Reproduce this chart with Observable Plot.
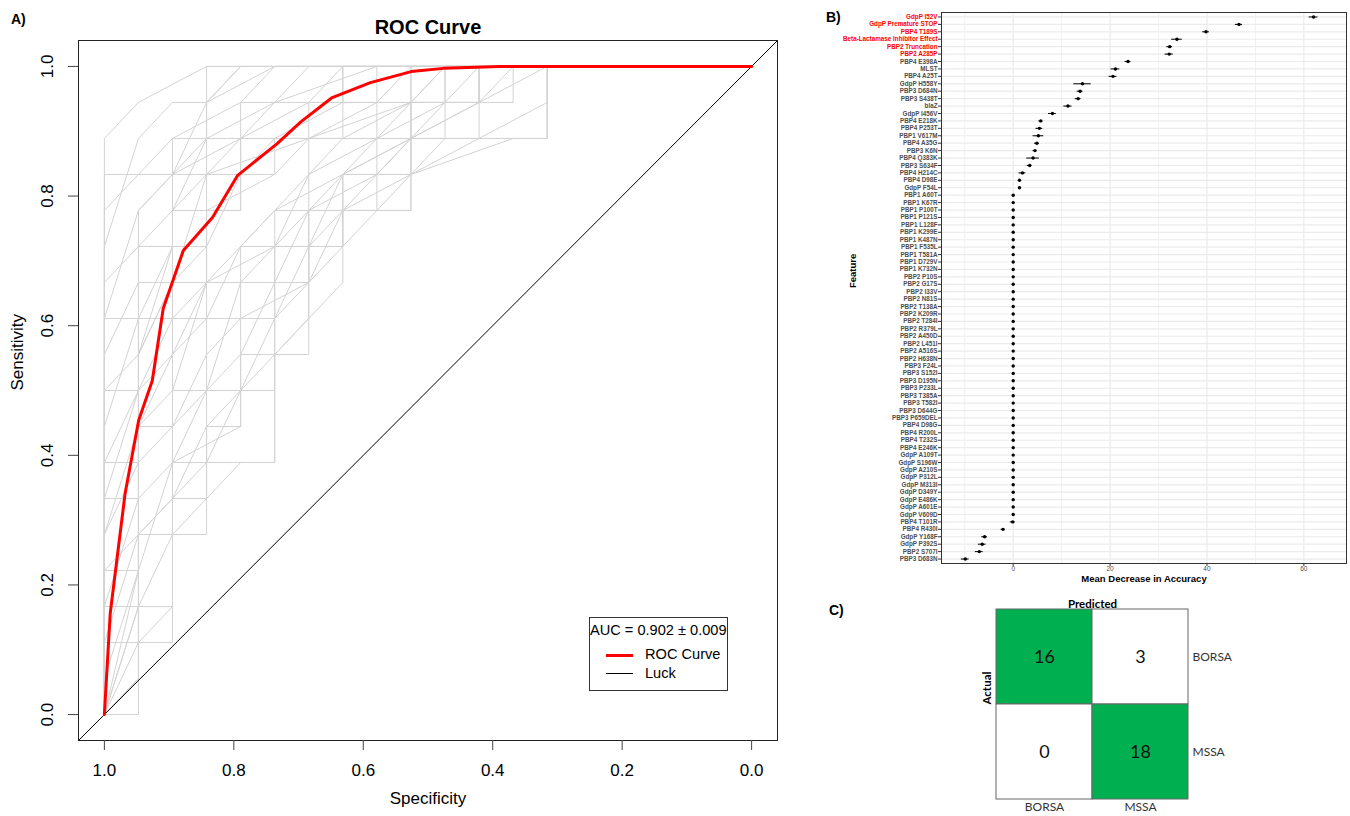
<!DOCTYPE html>
<html><head><meta charset="utf-8">
<script src="https://cdn.jsdelivr.net/npm/d3@7"></script>
<script src="https://cdn.jsdelivr.net/npm/@observablehq/plot@0.6"></script>
<style>
body{margin:0;background:#fff;font-family:"Liberation Sans",Arial,sans-serif;}
#root{position:relative;width:1350px;height:816px;overflow:hidden;background:#fff;}
.abs{position:absolute;}
.plab{position:absolute;font-weight:bold;font-size:14px;line-height:14px;font-family:"Liberation Sans",Arial,sans-serif;}
#legend{position:absolute;left:589px;top:617px;width:139px;height:74px;border:1px solid #333;box-sizing:border-box;font-size:14.6px;font-family:"Liberation Sans",Arial,sans-serif;background:#fff;}
#legend div{position:absolute;white-space:nowrap;}
</style></head><body><div id="root"></div>
<script>
// ---------- Panel A: ROC ----------
const rocSpec = [1.0, 0.991, 0.968, 0.947, 0.926, 0.909, 0.895, 0.878, 0.833, 0.794, 0.733, 0.697, 0.648, 0.589, 0.526, 0.476, 0.388, 0.0];
const rocSens = [0.0, 0.156, 0.341, 0.454, 0.515, 0.627, 0.667, 0.716, 0.767, 0.832, 0.881, 0.914, 0.952, 0.975, 0.992, 0.997, 1.0, 1.0];
const luckSpec = [1.04, -0.04];
const luckSens = [-0.04, 1.04];
const specSteps = 19; // negatives (BORSA)
const sensSteps = 18; // positives (MSSA)
// grey per-fold ROC curves, as [false-positive step, true-positive step]
const greyCurves = [
  [[0,0],[0,16],[1,17],[3,18],[19,18]],
  [[0,0],[1,2],[2,3],[2,5],[3,6],[4,7],[5,7],[5,10],[6,11],[6,13],[7,14],[9,14],[9,15],[11,16],[13,16],[13,18],[19,18]],
  [[0,0],[0,14],[1,15],[2,16],[4,17],[5,18],[19,18]],
  [[0,0],[0,3],[1,6],[1,10],[2,12],[3,15],[4,16],[6,17],[7,18],[19,18]],
  [[0,0],[1,4],[1,8],[2,9],[3,12],[3,14],[5,15],[6,16],[8,17],[9,18],[19,18]],
  [[0,0],[0,6],[1,9],[2,11],[4,13],[5,14],[7,15],[9,16],[10,17],[11,18],[19,18]],
  [[0,0],[0,10],[1,12],[1,14],[3,16],[5,17],[6,18],[19,18]],
  [[0,0],[1,3],[2,5],[2,8],[3,10],[4,11],[6,12],[7,14],[8,15],[9,16],[11,17],[13,18],[19,18]],
  [[0,0],[0,8],[1,11],[2,13],[2,15],[4,16],[5,17],[8,18],[19,18]],
  [[0,0],[0,2],[1,5],[1,7],[3,9],[4,10],[5,12],[6,14],[8,16],[10,17],[10,18],[19,18]],
  [[0,0],[0,12],[1,13],[2,14],[3,15],[6,16],[9,17],[11,17],[11,18],[19,18]],
  [[0,0],[1,1],[1,6],[2,7],[4,8],[4,9],[5,10],[6,11],[7,12],[7,14],[9,15],[12,16],[13,16],[13,18],[19,18]],
  [[0,0],[0,5],[1,8],[2,10],[3,11],[4,13],[6,15],[7,16],[9,17],[10,18],[19,18]],
  [[0,0],[0,4],[2,6],[3,7],[4,9],[5,11],[6,13],[7,15],[9,16],[11,17],[12,18],[19,18]],
  [[0,0],[0,9],[1,10],[2,12],[3,13],[4,15],[5,16],[7,17],[7,18],[19,18]],
  [[0,0],[0,7],[1,9],[2,10],[3,12],[5,13],[6,14],[8,15],[9,16],[9,18],[19,18]],
  [[0,0],[0,11],[1,14],[2,15],[3,17],[4,18],[19,18]],
  [[0,0],[1,3],[1,5],[2,6],[3,8],[4,9],[5,9],[5,11],[6,12],[7,13],[8,14],[9,15],[10,16],[11,16],[13,17],[13,18],[19,18]],
  [[0,0],[0,13],[1,16],[2,17],[3,17],[4,18],[19,18]],
  [[0,0],[0,1],[1,4],[2,7],[3,9],[4,12],[5,13],[6,15],[8,16],[9,17],[10,18],[19,18]],
  [[0,0],[0,15],[2,15],[2,16],[6,16],[6,17],[9,17],[9,18],[19,18]],
  [[0,0],[0,9],[1,9],[1,13],[3,13],[3,15],[5,15],[5,16],[9,16],[9,17],[11,17],[11,18],[19,18]],
  [[0,0],[0,4],[1,4],[1,8],[2,8],[2,11],[4,11],[4,13],[6,13],[6,14],[9,14],[9,16],[13,16],[13,18],[19,18]],
  [[0,0],[1,0],[1,2],[2,2],[2,5],[3,5],[3,8],[4,8],[4,10],[5,10],[5,12],[6,12],[6,14],[7,14],[7,15],[9,15],[9,16],[10,16],[10,17],[11,17],[11,18],[19,18]],
  [[0,0],[0,6],[1,6],[1,12],[3,12],[3,14],[4,14],[4,17],[7,17],[7,18],[19,18]],
  [[0,0],[0,11],[2,11],[2,15],[3,15],[3,18],[19,18]],
  [[0,0],[0,3],[2,3],[2,7],[5,7],[5,10],[6,10],[6,13],[7,13],[7,14],[8,14],[8,16],[11,16],[11,17],[12,17],[12,18],[19,18]],
  [[0,0],[0,2],[1,2],[1,5],[2,5],[2,9],[3,9],[3,12],[5,12],[5,14],[6,14],[6,16],[8,16],[8,17],[10,17],[10,18],[19,18]],
  [[0,0],[1,1],[1,3],[2,3],[2,6],[3,6],[3,9],[4,9],[4,11],[5,11],[5,13],[7,13],[7,15],[9,15],[9,17],[11,17],[11,18],[19,18]],
  [[0,0],[0,7],[1,7],[1,11],[2,11],[2,14],[4,14],[4,16],[7,16],[7,17],[8,17],[8,18],[19,18]],
  [[0,0],[0,5],[1,7],[1,10],[2,13],[2,14],[3,16],[3,17],[5,18],[19,18]]
];
const rocTicks = [0, 0.2, 0.4, 0.6, 0.8, 1.0];
const aucText = "AUC = 0.902 \u00b1 0.009";

// ---------- Panel B: feature importance ----------
const features = ["GdpP I52V","GdpP Premature STOP","PBP4 T189S","Beta-Lactamase Inhibitor Effect","PBP2 Truncation","PBP2 A285P","PBP4 E398A","MLST","PBP4 A25T","GdpP H558Y","PBP3 D684N","PBP3 S438T","blaZ","GdpP I456V","PBP4 E218K","PBP4 P253T","PBP1 V617M","PBP4 A35G","PBP3 K6N","PBP4 Q383K","PBP3 S634F","PBP4 H214C","PBP4 D98E","GdpP F54L","PBP1 A60T","PBP1 K67R","PBP1 P100T","PBP1 P121S","PBP1 L128F","PBP1 K299E","PBP1 K487N","PBP1 F535L","PBP1 T581A","PBP1 D729V","PBP1 K732N","PBP2 P10S","PBP2 G17S","PBP2 I33V","PBP2 N81S","PBP2 T138A","PBP2 K209R","PBP2 T284I","PBP2 R379L","PBP2 A450D","PBP2 L451I","PBP2 A516S","PBP2 H638N","PBP3 F24L","PBP3 S152I","PBP3 D195N","PBP3 P233L","PBP3 T385A","PBP3 T582I","PBP3 D644G","PBP3 P659DEL","PBP4 D98G","PBP4 R200L","PBP4 T232S","PBP4 E246K","GdpP A109T","GdpP S196W","GdpP A210S","GdpP P312L","GdpP M313I","GdpP D349Y","GdpP E486K","GdpP A601E","GdpP V609D","PBP4 T101R","PBP4 R430I","GdpP Y168F","GdpP P392S","PBP2 S707I","PBP3 D683N"];
const meanDecrease = [62.0,46.6,39.8,33.8,32.3,32.2,23.7,21.1,20.6,14.3,13.8,13.4,11.3,8.1,5.7,5.4,5.2,4.9,4.5,4.1,3.4,1.9,1.3,1.3,0,0,0,0,0,0,0,0,0,0,0,0,0,0,0,0,0,0,0,0,0,0,0,0,0,0,0,0,0,0,0,0,0,0,0,0,0,0,0,0,0,0,0,0,-0.1,-2.1,-5.9,-6.4,-7.0,-9.9];
const errHalf = [0.9,0.75,0.7,1.1,0.6,0.85,0.6,0.9,0.8,1.8,0.6,0.6,0.85,0.8,0.4,0.7,1.1,0.5,0.4,1.3,0.5,0.7,0.2,0.2,0,0,0,0,0,0,0,0,0,0,0,0,0,0,0,0,0,0,0,0,0,0,0,0,0,0,0,0,0,0,0,0,0,0,0,0,0,0,0,0,0,0,0,0,0.5,0.4,0.6,0.8,0.8,0.8];
const highlighted = ["GdpP I52V","GdpP Premature STOP","PBP4 T189S","Beta-Lactamase Inhibitor Effect","PBP2 Truncation","PBP2 A285P"];
const importanceTicks = [0, 20, 40, 60];
const importanceMinor = [-10, 10, 30, 50];

// ---------- Panel C: confusion matrix ----------
const classes = ["BORSA", "MSSA"];
const cmActual =    ["BORSA","BORSA","MSSA","MSSA"];
const cmPredicted = ["BORSA","MSSA","BORSA","MSSA"];
const cmCount =     [16, 3, 0, 18];

const root = document.getElementById("root");
function place(el, left, top, w) {
  const d = document.createElement("div");
  d.className = "abs"; d.style.left = left + "px"; d.style.top = top + "px"; d.style.width = w + "px";
  d.appendChild(el); root.appendChild(d); return d;
}
const sans = "'Liberation Sans', Arial, sans-serif";

// ---- A ----
const greyData = greyCurves.flatMap((c, k) => c.map(([i, j]) => ({curve: k, spec: 1 - i / specSteps, sens: j / sensSteps})));
const rocData = rocSpec.map((s, i) => ({spec: s, sens: rocSens[i]}));
const luckData = luckSpec.map((s, i) => ({spec: s, sens: luckSens[i]}));
const A = Plot.plot({
  width: 820, height: 816,
  marginLeft: 78, marginRight: 43, marginTop: 40, marginBottom: 76,
  x: {domain: [1.04, -0.04], axis: null},
  y: {domain: [-0.04, 1.04], axis: null},
  style: {fontFamily: sans, overflow: "visible", background: "transparent"},
  marks: [
    Plot.line(greyData, {x: "spec", y: "sens", z: "curve", stroke: "#d3d3d3", strokeWidth: 1}),
    Plot.line(luckData, {x: "spec", y: "sens", stroke: "black", strokeWidth: 1}),
    Plot.line(rocData, {x: "spec", y: "sens", stroke: "#ff0000", strokeWidth: 3}),
    Plot.frame({stroke: "#222"}),
    Plot.axisX({ticks: rocTicks, tickSize: 10, tickPadding: 13, fontSize: 17, tickFormat: d => d.toFixed(1), label: null, stroke: "#444"}),
    Plot.axisY({ticks: rocTicks, tickSize: 10, tickFormat: () => "", label: null, stroke: "#444"}),
    Plot.text(rocTicks, {y: d => d, text: d => d.toFixed(1), frameAnchor: "left", dx: -31, rotate: -90, textAnchor: "middle", fontSize: 17}),
    Plot.text(["Specificity"], {frameAnchor: "bottom", dy: 63, fontSize: 17}),
    Plot.text(["Sensitivity"], {frameAnchor: "left", dx: -61, rotate: -90, fontSize: 17}),
    Plot.text(["ROC Curve"], {frameAnchor: "top", dy: -21, fontSize: 20, fontWeight: "bold"})
  ]
});
place(A, 0, 0, 820);

// legend
const leg = document.createElement("div");
leg.id = "legend";
leg.innerHTML = `<div style="left:0;top:4px;">${aucText}</div>
<div style="left:16px;top:36px;width:27px;height:0;border-top:3px solid #ff0000;"></div>
<div style="left:55px;top:28px;">ROC Curve</div>
<div style="left:16px;top:55px;width:27px;height:0;border-top:1.5px solid #000;"></div>
<div style="left:55px;top:47px;">Luck</div>`;
root.appendChild(leg);

// ---- B ----
const importance = features.map((f, i) => ({feature: f, mean: meanDecrease[i], lo: meanDecrease[i] - errHalf[i], hi: meanDecrease[i] + errHalf[i]}));
const B = Plot.plot({
  width: 510, height: 600,
  marginLeft: 101, marginRight: 4, marginTop: 12, marginBottom: 37,
  x: {domain: [-14.8, 68.8], axis: null},
  y: {type: "point", domain: features, padding: 0.6, axis: null},
  color: {type: "identity"},
  style: {fontFamily: sans, overflow: "visible", background: "transparent"},
  marks: [
    Plot.ruleX(importanceMinor, {stroke: "#ededed", strokeWidth: 0.8}),
    Plot.ruleX(importanceTicks, {stroke: "#ebebeb", strokeWidth: 1.2}),
    Plot.ruleY(features, {stroke: "#ebebeb", strokeWidth: 1.2}),
    Plot.ruleY(importance, {y: "feature", x1: "lo", x2: "hi", stroke: "black", strokeWidth: 1}),
    Plot.dot(importance, {y: "feature", x: "mean", r: 1.7, fill: "black"}),
    Plot.frame({stroke: "#333"}),
    Plot.axisX({ticks: importanceTicks, tickSize: 3, tickPadding: 0, fontSize: 6.5, fill: "#4d4d4d", stroke: "#333", label: null}),
    Plot.axisY({tickSize: 3, tickFormat: () => "", stroke: "#333", label: null}),
    Plot.text(features, {y: d => d, text: d => d, frameAnchor: "left", dx: -4, textAnchor: "end", fontSize: 6.3, fontWeight: "bold", fill: d => highlighted.includes(d) ? "#ff0000" : "#4d4d4d"}),
    Plot.text(["Mean Decrease in Accuracy"], {frameAnchor: "bottom", dy: 18, fontSize: 9.5, fontWeight: "bold"}),
    Plot.text(["Feature"], {frameAnchor: "left", dx: -89, rotate: -90, fontSize: 9.5, fontWeight: "bold"})
  ]
});
place(B, 840, 0, 510);

// ---- C ----
const cm = cmActual.map((a, i) => ({actual: a, predicted: cmPredicted[i], count: cmCount[i]}));
const C = Plot.plot({
  width: 290, height: 231,
  marginLeft: 36, marginRight: 62, marginTop: 24, marginBottom: 17,
  x: {domain: classes, padding: 0, axis: null},
  y: {domain: classes, padding: 0, axis: null},
  color: {type: "identity"},
  style: {fontFamily: "Lato, 'Open Sans', sans-serif", overflow: "visible", background: "transparent"},
  marks: [
    Plot.cell(cm, {x: "predicted", y: "actual", inset: 0, fill: d => d.predicted === d.actual ? "#00b050" : "white", stroke: "#666", strokeWidth: 1}),
    Plot.text(cm, {x: "predicted", y: "actual", text: d => String(d.count), fontSize: 18, fill: "#111"}),
    Plot.axisX({anchor: "bottom", tickSize: 0, tickPadding: 3, fontSize: 12, label: null, fill: "#333"}),
    Plot.axisY({anchor: "right", tickSize: 0, tickPadding: 4, fontSize: 12, label: null, fill: "#333"}),
    Plot.text(["Predicted"], {frameAnchor: "top", dy: -10, fontWeight: "bold", fontSize: 11.5}),
    Plot.text(["Actual"], {frameAnchor: "left", dx: -9, rotate: -90, fontWeight: "bold", fontSize: 11.5})
  ]
});
place(C, 960, 585, 290);

// panel letters
[["A)", 11, 12], ["B)", 826, 10], ["C)", 829, 603]].forEach(([t, x, y]) => {
  const d = document.createElement("div");
  d.className = "plab"; d.textContent = t; d.style.left = x + "px"; d.style.top = y + "px";
  root.appendChild(d);
});
</script></body></html>
